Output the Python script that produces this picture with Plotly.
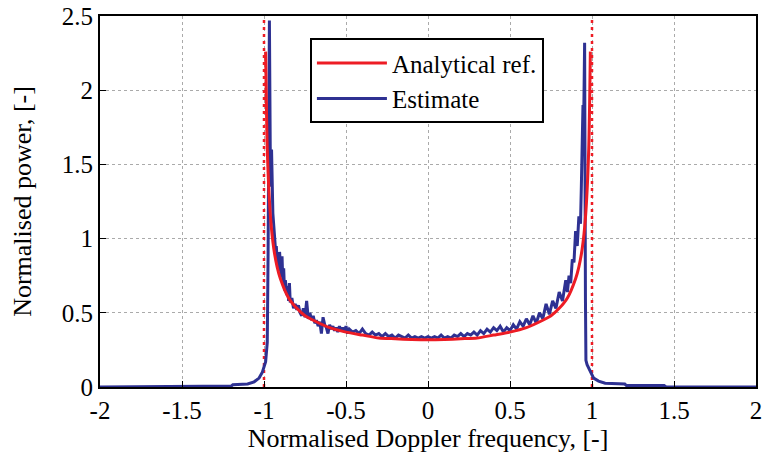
import plotly.graph_objects as go

# Analytical reference
ref_f = [-0.99, -0.98, -0.96, -0.94, -0.92, -0.90, -0.85, -0.80, -0.75, -0.70, -0.60, -0.50,
         -0.40, -0.30, -0.20, -0.10, 0.0, 0.10, 0.20, 0.30, 0.40, 0.50, 0.60, 0.70, 0.75,
         0.80, 0.85, 0.90, 0.92, 0.94, 0.96, 0.98, 0.99]
ref_p = [2.26, 1.60, 1.14, 0.93, 0.81, 0.73, 0.60, 0.53, 0.48, 0.45, 0.40, 0.37,
         0.35, 0.33, 0.325, 0.32, 0.318, 0.32, 0.325, 0.33, 0.35, 0.37, 0.40, 0.45, 0.48,
         0.53, 0.60, 0.73, 0.81, 0.93, 1.14, 1.60, 2.26]

# Estimate
est_f = [-2.0, -1.5, -1.38, -1.37, -1.2, -1.19, -1.1, -1.06, -1.03, -1.01, -0.99, -0.98,
         -0.975, -0.97, -0.967, -0.962, -0.958, -0.954, -0.950, -0.946, -0.940, -0.935,
         -0.930, -0.925, -0.920, -0.915, -0.910, -0.905, -0.900, -0.895, -0.890, -0.885,
         -0.88, -0.875, -0.87, -0.86, -0.855, -0.85, -0.845, -0.84, -0.83, -0.82, -0.81,
         -0.80, -0.79, -0.78, -0.77, -0.76, -0.75, -0.74, -0.73, -0.72, -0.71, -0.70,
         -0.69, -0.68, -0.67, -0.66, -0.65, -0.64, -0.63, -0.62, -0.61, -0.60, -0.59,
         -0.58, -0.57, -0.56, -0.55, -0.54, -0.53, -0.52, -0.51, -0.50, -0.49, -0.48,
         -0.46, -0.44, -0.42, -0.40, -0.38, -0.36, -0.34, -0.32, -0.30, -0.28, -0.26,
         -0.24, -0.22, -0.20, -0.18, -0.16, -0.14, -0.12, -0.10, -0.08, -0.06, -0.04,
         -0.02, 0.00, 0.02, 0.04, 0.06, 0.08, 0.10, 0.12, 0.14, 0.16, 0.18, 0.20, 0.22,
         0.24, 0.26, 0.28, 0.30, 0.32, 0.34, 0.36, 0.38, 0.40, 0.42, 0.44, 0.46, 0.48,
         0.50, 0.52, 0.54, 0.56, 0.58, 0.60, 0.62, 0.64, 0.66, 0.68, 0.70, 0.72, 0.74,
         0.76, 0.78, 0.80, 0.82, 0.84, 0.85, 0.86, 0.87, 0.88, 0.89, 0.90, 0.91, 0.92,
         0.93, 0.935, 0.94, 0.945, 0.950, 0.955, 0.960, 0.963, 0.97, 0.99, 1.01, 1.04,
         1.08, 1.2, 1.21, 1.44, 1.45, 2.0]
est_p = [0.0, 0.0, 0.0, 0.005, 0.006, 0.015, 0.02, 0.035, 0.06, 0.1, 0.17, 0.3,
         0.9, 1.8, 2.47, 1.62, 1.35, 1.60, 1.30, 1.17, 1.08, 1.00,
         0.93, 0.95, 0.86, 0.90, 0.78, 0.91, 0.80, 0.74, 0.88, 0.70,
         0.80, 0.65, 0.72, 0.62, 0.68, 0.58, 0.70, 0.57, 0.60, 0.53, 0.56,
         0.52, 0.55, 0.50, 0.48, 0.53, 0.47, 0.58, 0.46, 0.50, 0.45, 0.48,
         0.43, 0.45, 0.41, 0.44, 0.36, 0.47, 0.42, 0.40, 0.36, 0.42, 0.39,
         0.41, 0.38, 0.40, 0.37, 0.41, 0.38, 0.40, 0.37, 0.41, 0.36, 0.39,
         0.37, 0.38, 0.36, 0.39, 0.36, 0.35, 0.37, 0.35, 0.36, 0.34, 0.36,
         0.34, 0.35, 0.33, 0.35, 0.34, 0.33, 0.35, 0.33, 0.34, 0.33, 0.34,
         0.33, 0.34, 0.33, 0.34, 0.33, 0.35, 0.33, 0.34, 0.33, 0.35, 0.34, 0.36, 0.34,
         0.36, 0.35, 0.37, 0.35, 0.38, 0.36, 0.39, 0.37, 0.40, 0.38, 0.41, 0.37, 0.40,
         0.38, 0.42, 0.39, 0.44, 0.41, 0.46, 0.42, 0.48, 0.43, 0.50, 0.46, 0.56, 0.49,
         0.58, 0.53, 0.64, 0.58, 0.72, 0.64, 0.75, 0.70, 0.86, 0.84, 1.05, 0.95, 1.15,
         1.10, 1.35, 1.60, 1.90, 1.85, 2.32, 0.60, 0.18, 0.15, 0.10, 0.06, 0.04,
         0.025, 0.02, 0.01, 0.01, 0.002, 0.0]

cutoff_f = [-1.0, 1.0]

x_ticks = [-2, -1.5, -1, -0.5, 0, 0.5, 1, 1.5, 2]
x_labels = ["-2", "-1.5", "-1", "-0.5", "0", "0.5", "1", "1.5", "2"]
y_ticks = [0, 0.5, 1, 1.5, 2, 2.5]
y_labels = ["0", "0.5", "1", "1.5", "2", "2.5"]

RED = "rgb(237,28,36)"
BLUE = "rgb(46,49,146)"
FONT = "Liberation Serif"

fig = go.Figure()
for cf in cutoff_f:
    fig.add_trace(go.Scatter(x=[cf, cf], y=[0, 2.5], mode="lines",
                             line=dict(color=RED, width=2.5, dash="3px,4px"),
                             showlegend=False, hoverinfo="skip"))
fig.add_trace(go.Scatter(x=est_f, y=est_p, mode="lines", name="Estimate",
                         line=dict(color=BLUE, width=3)))
fig.add_trace(go.Scatter(x=ref_f, y=ref_p, mode="lines", name="Analytical ref.",
                         line=dict(color=RED, width=3, shape="spline", smoothing=0.6)))

fig.update_layout(
    width=763, height=457,
    margin=dict(l=100, r=7, t=16, b=70),
    paper_bgcolor="white", plot_bgcolor="white",
    font=dict(family=FONT, size=25, color="black"),
    legend=dict(x=0.32, y=0.94, xanchor="left", yanchor="top",
                bordercolor="black", borderwidth=2, bgcolor="white",
                font=dict(family=FONT, size=25), traceorder="reversed",
                tracegroupgap=0, itemwidth=70),
    xaxis=dict(range=[-2, 2], tickvals=x_ticks, ticktext=x_labels, automargin=False,
               ticklabeloverflow="allow",
               showgrid=True, gridcolor="rgb(170,170,170)", griddash="dot", gridwidth=1,
               zeroline=False, showline=True, linecolor="black", linewidth=2, mirror=True,
               ticks="inside", ticklen=6, tickcolor="black",
               tickfont=dict(family=FONT, size=25),
               title=dict(text="Normalised Doppler frequency, [-]", standoff=2,
                          font=dict(family=FONT, size=26))),
    yaxis=dict(range=[0, 2.5], tickvals=y_ticks, ticktext=y_labels, automargin=False,
               showgrid=True, gridcolor="rgb(170,170,170)", griddash="dot", gridwidth=1,
               zeroline=False, showline=True, linecolor="black", linewidth=2, mirror=True,
               ticks="inside", ticklen=6, tickcolor="black",
               tickfont=dict(family=FONT, size=25),
               title=dict(text="Normalised power, [-]", standoff=23,
                          font=dict(family=FONT, size=26))),
)

fig.write_html("out.html", config={"displayModeBar": False},
               post_script="document.body.style.margin='0';document.body.style.overflow='hidden';")
